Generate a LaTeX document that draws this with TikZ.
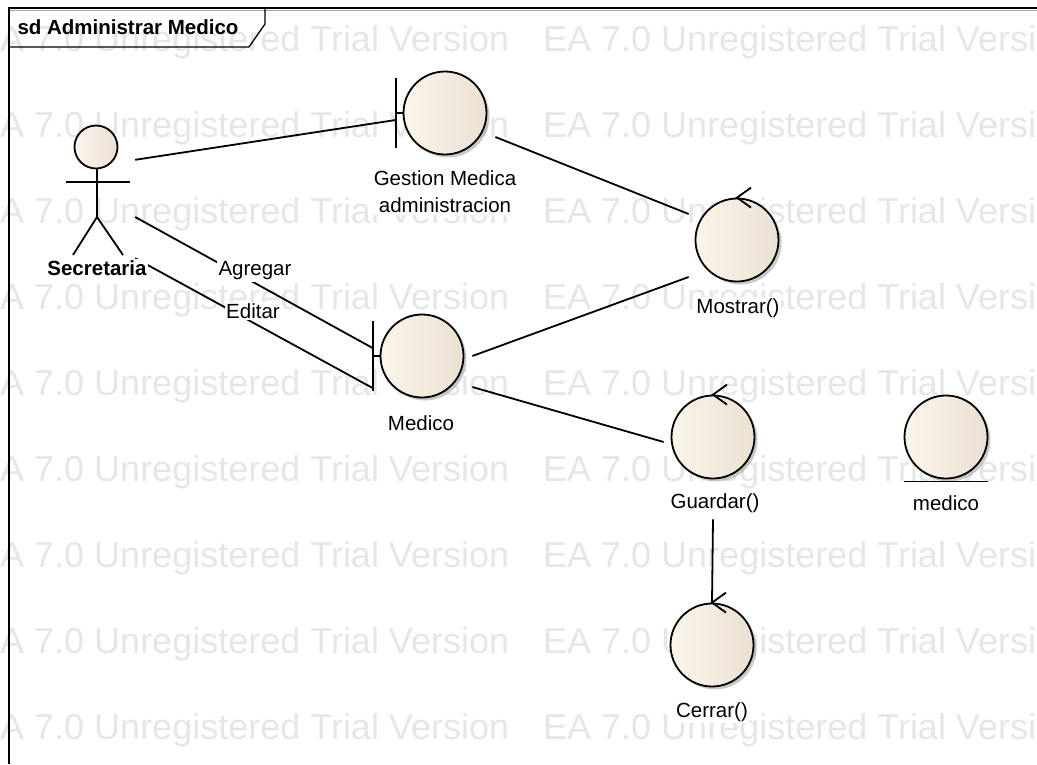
\documentclass[tikz,border=0pt]{standalone}
\usepackage{fontspec}
\setmainfont{Liberation Sans}
\usetikzlibrary{calc,shadows}

\begin{document}
\begin{tikzpicture}[x=1pt,y=-1pt]

% Colors
\definecolor{wmark}{RGB}{230,230,230}
\definecolor{ballL}{RGB}{251,245,234}
\definecolor{ballR}{RGB}{234,225,210}
\definecolor{ballshadow}{RGB}{165,165,165}

% Styles
\tikzset{
  ball/.style={
    circle,
    draw=black,
    line width=1.8pt,
    left color=ballL,
    right color=ballR,
    minimum size=83pt,
    inner sep=0pt,
    drop shadow={shadow xshift=3pt,shadow yshift=-3pt,fill=ballshadow,opacity=0.6}
  },
  head/.style={
    circle,
    draw=black,
    line width=1.8pt,
    left color=ballL,
    right color=ballR,
    minimum size=43pt,
    inner sep=0pt
  },
  assoc/.style={
    line width=1.8pt,
    draw=black
  },
  frameline/.style={
    line width=1.8pt,
    draw=black
  },
  lbl/.style={
    fill=white,
    inner sep=1.5pt,
    align=center,
    font=\fontsize{20.5}{27}\selectfont
  },
  wmtext/.style={
    anchor=base west,
    inner sep=0pt,
    text=wmark,
    font=\fontsize{36}{36}\selectfont
  }
}

\useasboundingbox (0,0) rectangle (1037,764);
\clip (0,0) rectangle (1037,764);

% Watermark rows
\foreach \row in {0,...,8}{
  \node[wmtext] (wmA\row) at (-24,51+86.1*\row) {EA 7.0 Unregistered Trial Version};
  \node[wmtext] (wmB\row) at (543,51+86.1*\row) {EA 7.0 Unregistered Trial Version};
}

% Frame
\draw[frameline] (9,764) -- (9,8) -- (1037,8);
\draw[line width=1pt,draw=black!35] (10,10.5) -- (1037,10.5);
\draw[line width=1.3pt] (9,47) -- (249,47) -- (265,24) -- (265,8);
\node[inner sep=0pt,font=\bfseries\fontsize{20.5}{24}\selectfont] (title) at (128,27) {sd Administrar Medico};

% Actor
\node[minimum width=76pt,minimum height=132pt,inner sep=0pt] (sec) at (97,192) {};
\draw[assoc] ($(sec)+(0,-25)$) -- ($(sec)+(0,25)$);
\draw[assoc] ($(sec)+(-31,-10)$) -- ($(sec)+(33,-10)$);
\draw[assoc] ($(sec)+(-24,63)$) -- ($(sec)+(0,25)$) -- ($(sec)+(26,63)$);
\node[head] (sechead) at ($(sec)+(-1,-45)$) {};

% Robustness elements
\node[ball] (gest) at (445,113) {};
\node[ball] (most) at (737,240) {};
\node[ball] (med)  at (422,356) {};
\node[ball] (guar) at (713,437) {};
\node[ball] (ent)  at (946,437) {};
\node[ball] (cerr) at (712,645) {};

% Boundary bars
\foreach \b in {gest,med}{
  \draw[assoc] ($(\b.west)+(-7,-35)$) -- ($(\b.west)+(-7,35)$);
  \draw[assoc] ($(\b.west)+(-7,0)$) -- (\b.west);
}

% Control arrows
\foreach \c in {most,guar,cerr}{
  \draw[assoc] ($(\c.north)+(14,-10)$) -- (\c.north) -- ($(\c.north)+(14,10)$);
}

% Entity underline
\draw[assoc] ($(ent.south)+(-42,2)$) -- ($(ent.south)+(42,2)$);

% Connectors
\draw[assoc] ($(sec.north east)+(0,34)$) -- ($(gest.west)+(-7,7)$);
\draw[assoc] ($(sec.east)+(0,25)$) -- ($(med.west)+(-7,-8)$);
\draw[assoc] (sec.south east) -- ($(med.west)+(-7,32)$);
\draw[assoc] ($(gest.east)+(8,24)$) -- ($(most.west)+(-6,-26)$);
\draw[assoc] ($(med.east)+(8,0)$) -- ($(most.west)+(-6,37)$);
\draw[assoc] ($(med.east)+(8,31)$) -- ($(guar.west)+(-7,5)$);
\draw[assoc] ($(guar.south)+(0,40)$) -- (cerr.north);

% Labels
\node[lbl,font=\bfseries\fontsize{20.5}{27}\selectfont] (seclbl) at (97,268) {Secretaria};
\node[lbl] (agrlbl)  at (255,271) {Agregar};
\node[lbl] (edtlbl)  at (253,311) {Editar};
\node[lbl] (gestlbl) at (445,192) {Gestion Medica\\administracion};
\node[lbl] (mostlbl) at (738,308) {Mostrar()};
\node[lbl] (medlbl)  at (421,423) {Medico};
\node[lbl] (guarlbl) at (715,503) {Guardar()};
\node[lbl] (entlbl)  at (946,503) {medico};
\node[lbl] (cerrlbl) at (712,712) {Cerrar()};

\end{tikzpicture}
\end{document}
